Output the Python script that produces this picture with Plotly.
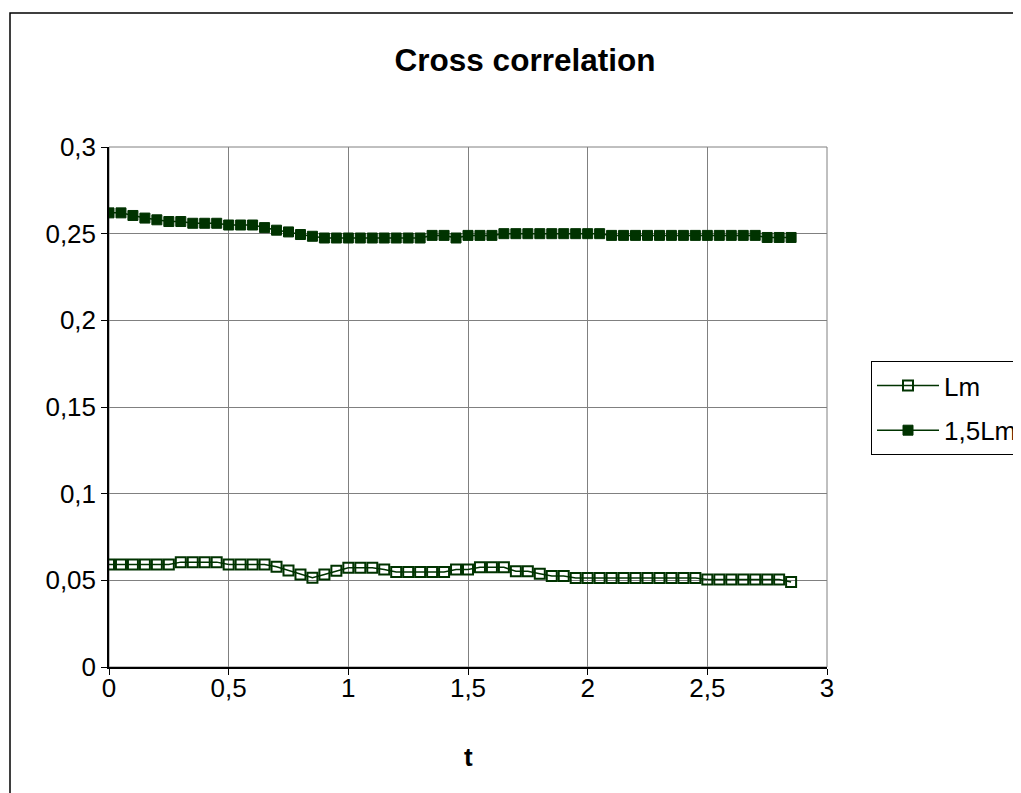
import plotly.graph_objects as go

# ---- data ----
t = [0.0, 0.05, 0.1, 0.15, 0.2, 0.25, 0.3, 0.35, 0.4, 0.45,
     0.5, 0.55, 0.6, 0.65, 0.7, 0.75, 0.8, 0.85, 0.9, 0.95,
     1.0, 1.05, 1.1, 1.15, 1.2, 1.25, 1.3, 1.35, 1.4, 1.45,
     1.5, 1.55, 1.6, 1.65, 1.7, 1.75, 1.8, 1.85, 1.9, 1.95,
     2.0, 2.05, 2.1, 2.15, 2.2, 2.25, 2.3, 2.35, 2.4, 2.45,
     2.5, 2.55, 2.6, 2.65, 2.7, 2.75, 2.8, 2.85]

lm = [0.0591, 0.0591, 0.0591, 0.0591, 0.0591, 0.0591,
      0.0605, 0.0605, 0.0605, 0.0605,
      0.0591, 0.0591, 0.0591, 0.0591,
      0.0578, 0.0557, 0.0534, 0.0515, 0.0534, 0.0555,
      0.0572, 0.0572, 0.0572, 0.0562,
      0.0548, 0.0548, 0.0548, 0.0548, 0.0548,
      0.0563, 0.0562, 0.0575, 0.0575, 0.0575,
      0.0552, 0.0552, 0.0538, 0.0525, 0.0525,
      0.0513, 0.0513, 0.0513, 0.0513, 0.0513, 0.0513, 0.0513, 0.0513, 0.0513, 0.0513, 0.0513,
      0.0505, 0.0505, 0.0505, 0.0505, 0.0505, 0.0505, 0.0505,
      0.0490]

lm15 = [0.262, 0.262, 0.2605, 0.259, 0.258, 0.257, 0.257, 0.256, 0.256, 0.256,
        0.255, 0.255, 0.255, 0.2535, 0.252, 0.251, 0.2495, 0.2485,
        0.2475, 0.2475, 0.2475, 0.2475, 0.2475, 0.2475, 0.2475, 0.2475, 0.2475,
        0.249, 0.249, 0.2475, 0.249, 0.249, 0.249,
        0.250, 0.250, 0.250, 0.250, 0.250, 0.250, 0.250, 0.250, 0.250,
        0.249, 0.249, 0.249, 0.249, 0.249, 0.249, 0.249, 0.249, 0.249, 0.249, 0.249, 0.249, 0.249,
        0.2478, 0.2478, 0.2478]

series_names = ["Lm", "1,5Lm"]
title_text = "Cross correlation"
x_title = "t"

# ---- style ----
GREEN = "#003300"
FONT = "Liberation Sans, Arial, sans-serif"

fig = go.Figure()
fig.add_trace(go.Scatter(
    x=t, y=lm, name=series_names[0], mode="lines+markers", legendgroup="a",
    line=dict(color=GREEN, width=1.5),
    marker=dict(symbol="square-open", size=10, color=GREEN, line=dict(color=GREEN, width=2)),
))
fig.add_trace(go.Scatter(
    x=t, y=lm15, name=series_names[1], mode="lines+markers", legendgroup="b",
    line=dict(color=GREEN, width=1.5),
    marker=dict(symbol="square", size=10, color=GREEN, line=dict(color=GREEN, width=1)),
))

OFF = 8  # page body margin
L, R, T, B = 109, 827, 147, 667   # plot area in page pixels
W, H = 1021 - OFF, 793 - OFF
pw, ph = R - L, B - T

def px(xp):
    return (xp - L) / pw

def py(yp):
    return (B - yp) / ph

fig.update_layout(
    width=W, height=H,
    margin=dict(l=L - OFF, r=W - (R - OFF), t=T - OFF, b=H - (B - OFF), pad=0, autoexpand=False),
    paper_bgcolor="white", plot_bgcolor="white",
    separators=", ",
    font=dict(family=FONT, size=26, color="black"),
    title=dict(text="<b>" + title_text + "</b>", x=(525 - OFF) / W, xref="container", xanchor="center",
               y=1 - (60 - OFF) / H, yref="container", yanchor="middle",
               font=dict(family=FONT, size=31.5, color="black")),
    xaxis=dict(range=[0, 3], dtick=0.5, tick0=0, showgrid=True, gridcolor="#808080", gridwidth=1,
               showline=True, linecolor="black", linewidth=1.5, ticks="outside", ticklen=6,
               tickcolor="black", zeroline=False, mirror=False, ticklabelstandoff=-9,
               tickfont=dict(family=FONT, size=26, color="black")),
    yaxis=dict(range=[0, 0.3], dtick=0.05, tick0=0, showgrid=True, gridcolor="#808080", gridwidth=1,
               showline=True, linecolor="black", linewidth=1.5, ticks="outside", ticklen=6,
               tickcolor="black", zeroline=False,
               tickfont=dict(family=FONT, size=26, color="black")),
    legend=dict(x=px(871), xanchor="left", y=py(361), yanchor="top",
                bordercolor="black", borderwidth=1, bgcolor="white",
                font=dict(family=FONT, size=26, color="black"),
                itemwidth=62, traceorder="grouped", tracegroupgap=8),
    showlegend=True,
)

# plot area border (gray)
fig.add_shape(type="rect", xref="paper", yref="paper", x0=0, y0=0, x1=1, y1=1,
              line=dict(color="#808080", width=1), layer="below")
# outer chart border
fig.add_shape(type="rect", xref="paper", yref="paper",
              x0=px(10), y0=py(805), x1=px(1060), y1=py(13),
              line=dict(color="black", width=1.5))

fig.add_annotation(text="<b>" + x_title + "</b>", xref="paper", yref="paper",
                   x=0.5, y=py(757), xanchor="center", yanchor="middle",
                   showarrow=False, font=dict(family=FONT, size=26, color="black"))

fig.write_html("out.html")
